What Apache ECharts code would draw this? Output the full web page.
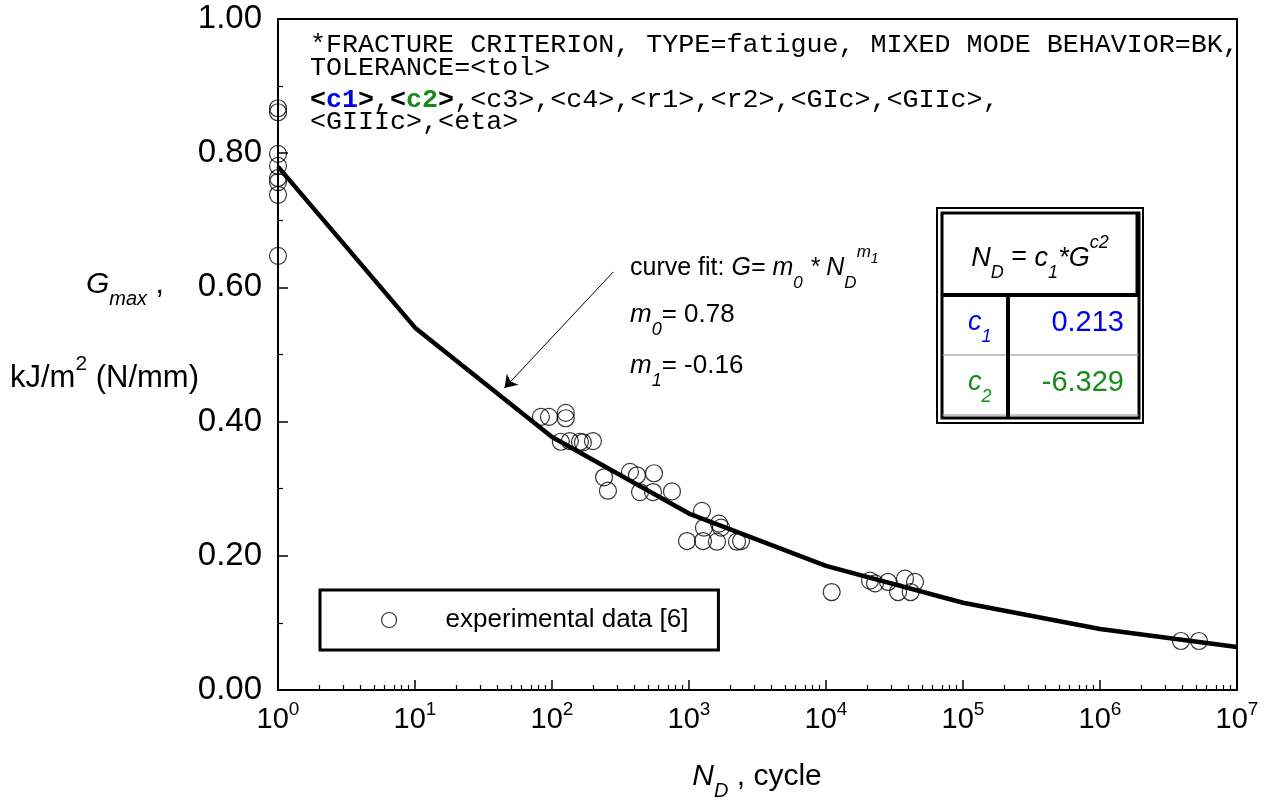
<!DOCTYPE html>
<html>
<head>
<meta charset="utf-8">
<title>Fatigue curve</title>
<script src="https://cdn.jsdelivr.net/npm/echarts@6/dist/echarts.min.js"></script>
<style>
  html, body { margin: 0; padding: 0; background: #fff; }
  #chart { width: 1271px; height: 807px; }
</style>
</head>
<body>
<div id="chart"></div>
<script>
// curve fit G = m0 * N^m1, read at each decade
var fitN = [1, 10, 100, 1000, 1e4, 1e5, 1e6, 1e7];
var fitG = [0.78, 0.54, 0.377, 0.263, 0.185, 0.13, 0.091, 0.064];

// experimental data [6]
var expN = [1, 1, 1, 1, 1, 1, 1, 1,
    83, 95, 126, 126, 116, 135, 160, 168, 199,
    240, 256, 371, 417, 555, 439, 546, 751,
    1244, 1286, 1656, 1713, 967, 1266, 1600, 2240, 2398,
    11000, 20950, 22800, 28360, 33550, 37740, 44650, 41500,
    3.9e6, 5.28e6];
var expG = [0.867, 0.861, 0.799, 0.781, 0.763, 0.757, 0.738, 0.647,
    0.407, 0.407, 0.413, 0.405, 0.370, 0.371, 0.370, 0.369, 0.371,
    0.317, 0.297, 0.325, 0.320, 0.323, 0.295, 0.295, 0.296,
    0.267, 0.242, 0.248, 0.242, 0.222, 0.222, 0.221, 0.221, 0.222,
    0.146, 0.163, 0.159, 0.161, 0.146, 0.166, 0.161, 0.146,
    0.073, 0.073];

var xMajor = [1, 10, 100, 1000, 1e4, 1e5, 1e6, 1e7];
var xMinor = [];
for (var d = 0; d < 7; d++) {
    for (var k = 2; k <= 9; k++) {
        xMinor.push(k * Math.pow(10, d));
    }
}

var sans = 'Liberation Sans';
var mono = 'Liberation Mono';
var blue = '#0000ee';
var green = '#178a17';

var fitData = fitN.map(function (n, i) { return [n, fitG[i]]; });
var expData = expN.map(function (n, i) { return [n, expG[i]]; });

// estilos para subindices / superindices
function mathRich(size, color) {
    var small = Math.round(size * 0.68);
    return {
        n: { fontFamily: sans, fontSize: size, lineHeight: 48, fill: color },
        i: { fontFamily: sans, fontSize: size, fontStyle: 'italic', lineHeight: 48, fill: color },
        sb: { fontFamily: sans, fontSize: small, fontStyle: 'italic', lineHeight: small, verticalAlign: 'bottom', fill: color },
        sp: { fontFamily: sans, fontSize: small, fontStyle: 'italic', lineHeight: small, verticalAlign: 'top', fill: color },
        su: { fontFamily: sans, fontSize: small, lineHeight: small + 4, verticalAlign: 'top', fill: color },
        sp1: { fontFamily: sans, fontSize: small - 3, fontStyle: 'italic', lineHeight: small, padding: [8, 0, 0, 0], verticalAlign: 'top', fill: color }
    };
}

function txt(x, y, text, rich, align) {
    return {
        type: 'text', x: x, y: y, silent: true,
        style: { text: text, rich: rich, align: align || 'left', verticalAlign: 'middle' }
    };
}

var monoSize = 26.7;
function monoLine(x, y, text) {
    return {
        type: 'text', x: x, y: y, silent: true,
        style: {
            text: text, fontFamily: mono, fontSize: monoSize, fill: '#000', verticalAlign: 'middle',
            rich: {
                k: { fontFamily: mono, fontSize: monoSize, fontWeight: 'bold', fill: '#000' },
                b: { fontFamily: mono, fontSize: monoSize, fontWeight: 'bold', fill: blue },
                g: { fontFamily: mono, fontSize: monoSize, fontWeight: 'bold', fill: green }
            }
        }
    };
}

// tabla N_D = c1 * G^c2
var tableGraphics = [
    { type: 'rect', shape: { x: 937, y: 208, width: 206, height: 215 }, style: { fill: '#fff', stroke: '#000', lineWidth: 2 } },
    { type: 'rect', shape: { x: 942, y: 213, width: 197, height: 205 }, style: { fill: 'none', stroke: '#000', lineWidth: 3 } },
    { type: 'line', shape: { x1: 942, y1: 295, x2: 1139, y2: 295 }, style: { stroke: '#000', lineWidth: 4 } },
    { type: 'line', shape: { x1: 942, y1: 355, x2: 1139, y2: 355 }, style: { stroke: '#888', lineWidth: 1 } },
    { type: 'line', shape: { x1: 942, y1: 415, x2: 1139, y2: 415 }, style: { stroke: '#888', lineWidth: 1 } },
    { type: 'line', shape: { x1: 1008, y1: 295, x2: 1008, y2: 418 }, style: { stroke: '#000', lineWidth: 4 } },
    { type: 'line', shape: { x1: 1137, y1: 213, x2: 1137, y2: 295 }, style: { stroke: '#000', lineWidth: 3 } },
    txt(1040, 258, '{i|N}{sb|D}{n| = }{i|c}{sb|1}{i|*G}{sp|c2}', mathRich(27, '#000'), 'center'),
    txt(968, 322, '{i|c}{sb|1}', mathRich(27, blue)),
    txt(1124, 323, '{n|0.213}', mathRich(29, blue), 'right'),
    txt(968, 382, '{i|c}{sb|2}', mathRich(27, green)),
    txt(1124, 383, '{n|-6.329}', mathRich(29, green), 'right')
];

var chart = echarts.init(document.getElementById('chart'));

var option = {
    backgroundColor: '#fff',
    animation: false,
    grid: {
        left: 278, top: 19, right: 34, bottom: 117,
        show: true, borderColor: '#000', borderWidth: 2
    },
    legend: {
        data: ['experimental data [6]'],
        left: 320, top: 590,
        icon: 'circle',
        itemWidth: 15, itemHeight: 15,
        itemStyle: { color: 'rgba(0,0,0,0)', borderColor: '#000', borderWidth: 1.2 },
        borderColor: '#000', borderWidth: 3,
        padding: [17, 30, 17, 61],
        textStyle: { fontFamily: sans, fontSize: 26, color: '#000', padding: [0, 0, 0, 44] }
    },
    xAxis: [{
        type: 'log', logBase: 10, min: 1, max: 1e7,
        axisLine: { lineStyle: { color: '#000', width: 2 } },
        axisTick: { inside: true, length: 10, customValues: xMajor, lineStyle: { color: '#000', width: 1.5 } },
        splitLine: { show: false },
        axisLabel: {
            customValues: xMajor,
            margin: 10,
            formatter: function (v) {
                return '{b|10}{s|' + Math.round(Math.log10(v)) + '}';
            },
            rich: {
                b: { fontFamily: sans, fontSize: 29, lineHeight: 40, color: '#000' },
                s: { fontFamily: sans, fontSize: 19, lineHeight: 19, verticalAlign: 'top', color: '#000' }
            }
        }
    }, {
        type: 'log', logBase: 10, min: 1, max: 1e7, position: 'bottom',
        axisLine: { show: false },
        axisTick: { inside: true, length: 5, customValues: xMinor, lineStyle: { color: '#000', width: 1.2 } },
        axisLabel: { show: false },
        splitLine: { show: false }
    }],
    yAxis: {
        type: 'value', min: 0, max: 1, interval: 0.2,
        axisLine: { show: true, lineStyle: { color: '#000', width: 2 } },
        axisTick: { show: true, inside: true, length: 10, lineStyle: { color: '#000', width: 1.5 } },
        minorTick: { show: true, splitNumber: 2, length: 5, lineStyle: { color: '#000', width: 1.2 } },
        splitLine: { show: false },
        axisLabel: {
            margin: 16,
            fontFamily: sans, fontSize: 33, color: '#000',
            formatter: function (v) { return v.toFixed(2); }
        }
    },
    series: [{
        name: 'experimental data [6]',
        type: 'scatter',
        data: expData,
        symbol: 'circle',
        symbolSize: 17,
        itemStyle: { color: 'rgba(0,0,0,0)', borderColor: '#000', borderWidth: 1.2 },
        z: 2
    }, {
        name: 'fit',
        type: 'line',
        data: fitData,
        symbol: 'none',
        lineStyle: { color: '#000', width: 4.5 },
        z: 3,
        markLine: {
            silent: true,
            symbol: ['none', 'arrow'],
            symbolSize: 12,
            label: { show: false },
            lineStyle: { color: '#000', width: 1, type: 'solid' },
            data: [[{ coord: [280, 0.623] }, { coord: [45, 0.45] }]]
        }
    }],
    graphic: [
        monoLine(310, 45, '*FRACTURE CRITERION, TYPE=fatigue, MIXED MODE BEHAVIOR=BK,'),
        monoLine(310, 68, 'TOLERANCE=<tol>'),
        monoLine(310, 100, '{k|<}{b|c1}{k|>},{k|<}{g|c2}{k|>},<c3>,<c4>,<r1>,<r2>,<GIc>,<GIIc>,'),
        monoLine(310, 122, '<GIIIc>,<eta>'),
        txt(630, 268, '{n|curve fit: }{i|G= m}{sb|0}{i| * N}{sb|D}{sp|m}{sp1|1}', mathRich(25, '#000')),
        txt(630, 315, '{i|m}{sb|0}{n|= 0.78}', mathRich(26, '#000')),
        txt(630, 366, '{i|m}{sb|1}{n|= -0.16}', mathRich(26, '#000')),
        txt(86, 285, '{i|G}{sb|max}{n| ,}', mathRich(30, '#000')),
        txt(10, 378, '{n|kJ/m}{su|2}{n| (N/mm)}', mathRich(31, '#000')),
        txt(757, 777, '{i|N}{sb|D}{n| , cycle}', mathRich(30, '#000'), 'center')
    ].concat(tableGraphics)
};

chart.setOption(option);
</script>
</body>
</html>
